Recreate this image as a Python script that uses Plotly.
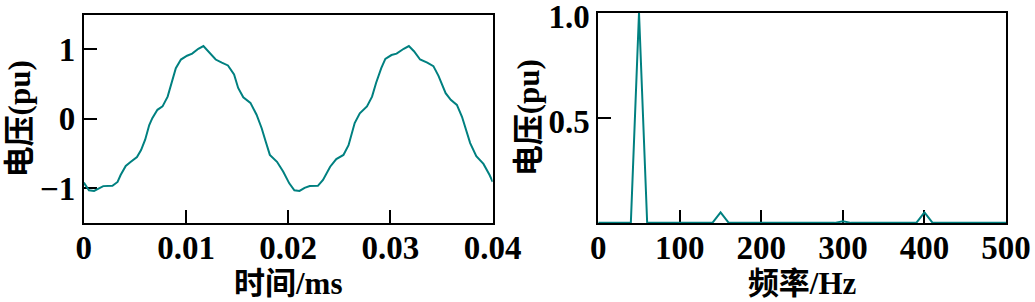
import plotly.graph_objects as go

# ---- data ----
time_s = [0, 0.0005, 0.001, 0.0015, 0.0019, 0.0028, 0.0033, 0.0036, 0.0041, 0.0046,
          0.0052, 0.0056, 0.0060, 0.0064, 0.0067, 0.0072, 0.0077, 0.0082, 0.0086, 0.0090,
          0.0095, 0.0101, 0.0106, 0.0112, 0.0117, 0.0122, 0.0129, 0.0135, 0.0141, 0.0147,
          0.0151, 0.0156, 0.0163, 0.0169, 0.0174, 0.0178, 0.0182, 0.0189, 0.0195, 0.0201,
          0.0206, 0.0211, 0.0216, 0.0221, 0.0229, 0.0234, 0.0241, 0.0247, 0.0254, 0.0259,
          0.0262, 0.0265, 0.0270, 0.0277, 0.0282, 0.0286, 0.0291, 0.0295, 0.0301, 0.0306,
          0.0313, 0.0318, 0.0323, 0.0329, 0.0336, 0.0342, 0.0347, 0.0354, 0.0359, 0.0365,
          0.0370, 0.0374, 0.0378, 0.0384, 0.0391, 0.0397, 0.0400]
voltage_pu = [-0.92, -1.03, -1.04, -0.995, -0.97, -0.966, -0.91, -0.81, -0.68, -0.62,
              -0.55, -0.45, -0.30, -0.09, 0.01, 0.13, 0.18, 0.32, 0.54, 0.73,
              0.855, 0.91, 0.94, 1.01, 1.05, 0.975, 0.855, 0.81, 0.77, 0.64,
              0.445, 0.31, 0.23, 0.06, -0.135, -0.33, -0.52, -0.62, -0.76, -0.93,
              -1.03, -1.04, -0.995, -0.97, -0.966, -0.88, -0.69, -0.58, -0.52, -0.38,
              -0.21, -0.06, 0.08, 0.18, 0.32, 0.52, 0.73, 0.865, 0.92, 0.94,
              1.01, 1.05, 0.975, 0.855, 0.81, 0.76, 0.62, 0.37, 0.275, 0.20,
              0.03, -0.16, -0.35, -0.54, -0.65, -0.81, -0.91]

freq_hz = [0, 40, 50, 60, 140, 150, 160, 290, 300, 310, 390, 400, 410, 500]
spectrum_pu = [0, 0, 1.0, 0, 0, 0.05, 0, 0, 0.008, 0, 0, 0.05, 0, 0]

time_ticks = [0, 0.01, 0.02, 0.03, 0.04]
time_tick_text = ["0", "0.01", "0.02", "0.03", "0.04"]
volt_ticks = [-1, 0, 1]
volt_tick_text = ["\u22121", "0", "1"]
freq_ticks = [0, 100, 200, 300, 400, 500]
spec_ticks = [0.5, 1.0]
spec_tick_text = ["0.5", "1.0"]

LINE = "#008080"
FONT = "Liberation Serif, Times New Roman, Noto Sans CJK SC, serif"
TICKFONT = dict(family=FONT, size=33, color="black", weight="bold")
TITLEFONT = dict(family=FONT, size=31, color="black", weight="bold")

fig = go.Figure()
fig.add_trace(go.Scatter(x=time_s, y=voltage_pu, mode="lines",
                         line=dict(color=LINE, width=2), xaxis="x", yaxis="y",
                         showlegend=False))
fig.add_trace(go.Scatter(x=freq_hz, y=spectrum_pu, mode="lines",
                         line=dict(color=LINE, width=2), xaxis="x2", yaxis="y2",
                         showlegend=False))

axis_common = dict(showline=True, linecolor="black", linewidth=2, mirror=True,
                   ticks="inside", ticklen=13, tickwidth=2, tickcolor="black",
                   showgrid=False, zeroline=False, tickfont=TICKFONT,
                   layer="below traces", automargin=False,
                   ticklabeloverflow="allow")

fig.update_layout(
    width=1035, height=302,
    margin=dict(l=0, r=0, t=0, b=0),
    paper_bgcolor="white", plot_bgcolor="white",
    xaxis=dict(domain=[0.081, 0.476], range=[0, 0.04], anchor="y",
               tickvals=time_ticks, ticktext=time_tick_text, ticklabelstandoff=-5,
               title=dict(text="时间/ms", font=TITLEFONT, standoff=4),
               **axis_common),
    yaxis=dict(domain=[0.262, 0.951], range=[-1.5, 1.5], anchor="x",
               tickvals=volt_ticks, ticktext=volt_tick_text,
               title=dict(text="电压(pu)", font=TITLEFONT, standoff=0),
               **axis_common),
    xaxis2=dict(domain=[0.578, 0.972], range=[0, 500], anchor="y2",
                tickvals=freq_ticks, ticklabelstandoff=-5,
                title=dict(text="频率/Hz", font=TITLEFONT, standoff=4),
                **axis_common),
    yaxis2=dict(domain=[0.262, 0.958], range=[0, 1.0], anchor="x2",
                tickvals=spec_ticks, ticktext=spec_tick_text, ticklabelshift=4,
                title=dict(text="电压(pu)", font=TITLEFONT, standoff=0),
                **axis_common),
)

fig.write_html("out.html")
